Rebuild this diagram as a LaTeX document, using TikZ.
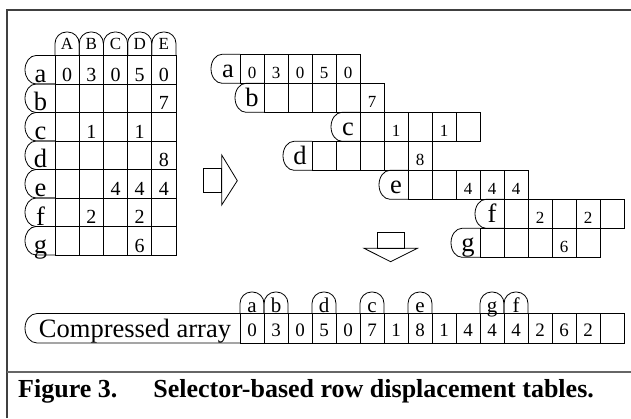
\documentclass[tikz,border=0pt]{standalone}
\usepackage{fontspec}
\setmainfont{Liberation Serif}
\tikzset{
  grid/.style={line width=0.8pt},
  lbl/.style={font=\fontsize{26.5}{26.5}\selectfont, anchor=base, inner sep=0pt},
  ldig/.style={font=\fontsize{20}{20}\selectfont, anchor=base, inner sep=0pt},
  mdig/.style={font=\fontsize{17}{17}\selectfont, anchor=base, inner sep=0pt},
  cdig/.style={font=\fontsize{19}{19}\selectfont, anchor=base, inner sep=0pt},
  hdr/.style={font=\fontsize{17}{17}\selectfont, anchor=base, inner sep=0pt},
  chdr/.style={font=\fontsize{21}{21}\selectfont, anchor=base, inner sep=0pt},
  frame/.style={line width=1.4pt, black!75},
}
\begin{document}
\begin{tikzpicture}[x=1pt,y=1pt]
\useasboundingbox (0,0) rectangle (631,418);
% frame
\draw[frame] (7,0) -- (7,408) -- (631,408);
\draw[frame, line width=1.1pt, black!60] (7,46) -- (631,46);

% ---------- left table ----------
\foreach \c [count=\i from 0] in {A,B,C,D,E} {
  \draw[grid, rounded corners=11.5pt] (55+24.2*\i,362.5) -- ++(0,23.5) -- ++(24.2,0) -- ++(0,-23.5);
  \node[hdr] (H\c) at (67.1+24.2*\i,368) {\c};
}
\foreach \r [count=\k from 0] in {a,b,c,d,e,f,g} {
  \pgfmathsetmacro\rt{362.5-28.5*\k}
  \draw[grid] (55,\rt) -- (36,\rt) arc[start angle=90, end angle=270, x radius=11, y radius=14.25] -- (55,\rt-28.5);
  \node[lbl] (L\r) at (40.5,\rt-27) {\r};
  \foreach \i in {0,...,4} \draw[grid] (55+24.2*\i,\rt) rectangle ++(24.2,-28.5);
}
\foreach \k/\i/\v in {0/0/0,0/1/3,0/2/0,0/3/5,0/4/0,1/4/7,2/1/1,2/3/1,3/4/8,4/2/4,4/3/4,4/4/4,5/1/2,5/3/2,6/3/6} {
  \node[ldig] (LV\k\i) at (67.1+24.2*\i,362.5-28.5*\k-26) {\v};
}

% ---------- arrows ----------
\draw[grid] (203.3,249.7) rectangle (221.7,225.3);
\draw[grid] (221.7,263) -- (237.3,237.3) -- (221.7,213) -- cycle;
\draw[grid] (377.3,185.3) rectangle (404.3,169.7);
\draw[grid] (364,169.7) -- (417.3,169.7) -- (390.7,156.3) -- cycle;

% ---------- displaced rows ----------
\foreach \r/\o [count=\k from 0] in {a/0,b/1,c/5,d/3,e/7,f/11,g/10} {
  \pgfmathsetmacro\rt{363.7-29*\k}
  \pgfmathsetmacro\cx{240+24*\o}
  \draw[grid] (\cx,\rt) -- (\cx-18,\rt) arc[start angle=90, end angle=270, x radius=11, y radius=14.5] -- (\cx,\rt-29);
  \node[lbl] (M\r) at (\cx-12,\rt-23) {\r};
  \foreach \i in {0,...,4} \draw[grid] (\cx+24*\i,\rt) rectangle ++(24,-29);
}
\foreach \k/\i/\v in {0/0/0,0/1/3,0/2/0,0/3/5,0/4/0,1/5/7,2/6/1,2/8/1,3/7/8,4/9/4,4/10/4,4/11/4,5/12/2,5/14/2,6/13/6} {
  \node[mdig] (MV\k\i) at (252+24*\i,363.7-29*\k-24.5) {\v};
}

% ---------- compressed array ----------
\draw[grid] (240,104.5) -- (37,104.5) arc[start angle=90, end angle=270, x radius=12, y radius=14.75] -- (240,75);
\node[lbl] (comp) at (135,80.5) {Compressed array};
\foreach \i in {0,...,15} \draw[grid] (240+24*\i,104.5) rectangle ++(24,-29.5);
\foreach \v [count=\i from 0] in {0,3,0,5,0,7,1,8,1,4,4,4,2,6,2} {
  \node[cdig] (CV\i) at (252+24*\i,81.5) {\v};
}
\foreach \c/\i in {a/0,b/1,d/3,c/5,e/7,g/10,f/11} {
  \draw[grid, rounded corners=11.5pt] (240+24*\i,104.5) -- ++(0,21.5) -- ++(24,0) -- ++(0,-21.5);
  \node[chdr] (CH\c) at (252+24*\i,105.5) {\c};
}

% ---------- caption ----------
\node[anchor=base west, inner sep=0pt, font=\bfseries\fontsize{26}{26}\selectfont] (cap) at (18,21) {Figure 3.\hspace{1.05em} Selector-based row displacement tables.};
\end{tikzpicture}
\end{document}
